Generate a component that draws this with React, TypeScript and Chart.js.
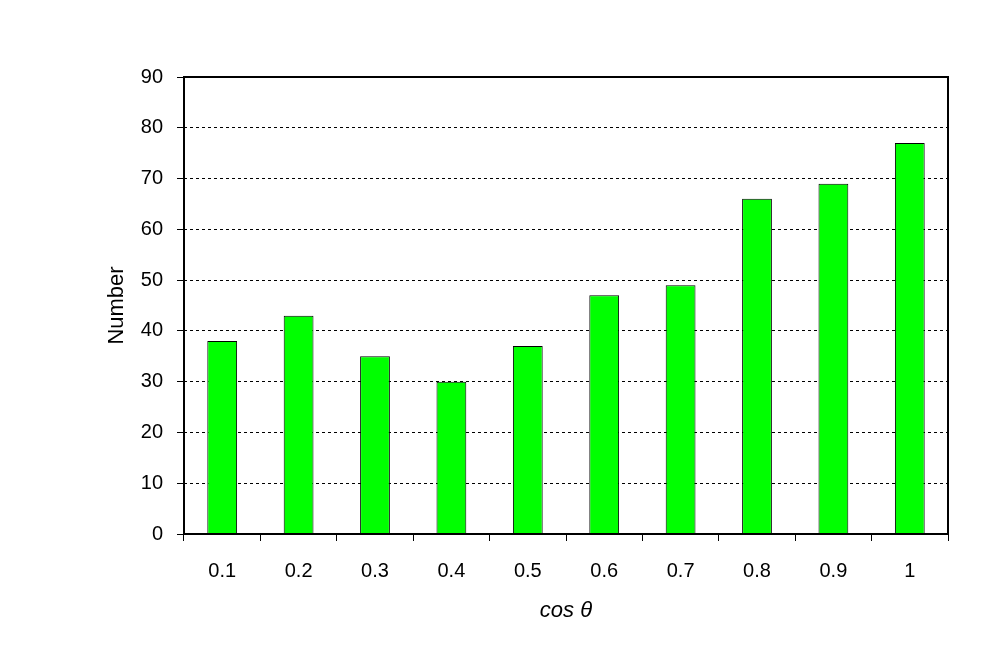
import React, { useEffect, useRef } from "react";
import { Chart, registerables } from "chart.js";

Chart.register(...registerables);

const categories = ["0.1", "0.2", "0.3", "0.4", "0.5", "0.6", "0.7", "0.8", "0.9", "1"];
const counts = [38, 43, 35, 30, 37, 47, 49, 66, 69, 77];
const yMin = 0;
const yMax = 90;
const yStep = 10;
const xTitle = "cos θ";
const yTitle = "Number";

const FONT = "'Liberation Sans', Arial, sans-serif";

const framePlugin = {
  id: "frame",
  afterDraw(chart: any) {
    const { ctx, chartArea } = chart;
    ctx.save();
    ctx.strokeStyle = "#000";
    ctx.lineWidth = 2;
    ctx.setLineDash([]);
    ctx.strokeRect(chartArea.left, chartArea.top, chartArea.right - chartArea.left, chartArea.bottom - chartArea.top);
    ctx.restore();
  },
};

export default function App() {
  const ref = useRef<HTMLCanvasElement>(null);
  useEffect(() => {
    if (!ref.current) return;
    const chart = new Chart(ref.current, {
      type: "bar",
      data: {
        labels: categories,
        datasets: [
          {
            data: counts,
            backgroundColor: "#00ff00",
            borderColor: "#000000",
            borderWidth: 1,
            barPercentage: 0.39,
            categoryPercentage: 1,
          },
        ],
      },
      options: {
        responsive: false,
        animation: false,
        layout: { padding: { left: 100, top: 77, right: 49, bottom: 0 } },
        plugins: { legend: { display: false }, tooltip: { enabled: false } },
        scales: {
          x: {
            offset: true,
            grid: {
              offset: true,
              drawOnChartArea: false,
              drawTicks: true,
              tickLength: 7,
              color: "#000",
              lineWidth: 1,
            },
            border: { display: false },
            ticks: { color: "#000", font: { family: FONT, size: 20 }, padding: 18, maxRotation: 0 },
            title: {
              display: true,
              text: xTitle,
              color: "#000",
              font: { family: FONT, size: 22, style: "italic" },
              padding: { top: 0, bottom: 40 },
            },
            afterFit: (s: any) => {
              s.height = 130;
            },
          },
          y: {
            min: yMin,
            max: yMax,
            ticks: {
              stepSize: yStep,
              color: "#000",
              font: { family: FONT, size: 20 },
              padding: 14,
            },
            grid: {
              color: "#000",
              lineWidth: 1,
              tickLength: 7,
              tickBorderDash: [],
            },
            border: { display: false, dash: [3, 3] },
            title: {
              display: true,
              text: yTitle,
              color: "#000",
              font: { family: FONT, size: 22 },
              padding: { top: 4, bottom: 0 },
            },
            afterFit: (s: any) => {
              s.width = 84;
            },
          },
        },
      },
      plugins: [framePlugin],
    });
    return () => chart.destroy();
  }, []);
  return (
    <div style={{ position: "absolute", left: 0, top: 0, width: 997, height: 664, background: "#fff" }}>
      <canvas ref={ref} width={997} height={664} />
    </div>
  );
}
